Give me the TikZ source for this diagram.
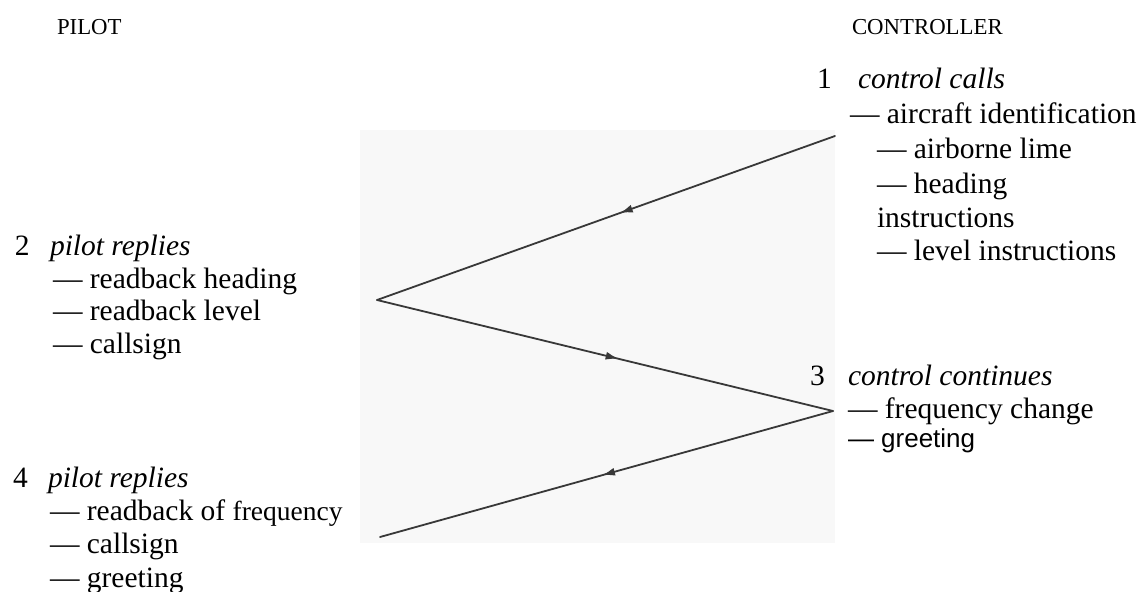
\documentclass[tikz,border=0pt]{standalone}
\usepackage{fontspec}
\setmainfont{Liberation Serif}
\newfontfamily\sansf{Liberation Sans}
\usetikzlibrary{decorations.markings,arrows.meta}
\definecolor{inkline}{HTML}{383838}
\definecolor{scanbg}{HTML}{F8F8F8}
\begin{document}
\begin{tikzpicture}[x=1pt,y=-1pt,
  txt/.style={anchor=base west,inner sep=0pt,outer sep=0pt,font=\fontsize{29.5}{33}\selectfont},
  hdr/.style={anchor=base west,inner sep=0pt,outer sep=0pt,font=\fontsize{22.8}{26}\selectfont},
  flow/.style={draw=inkline,line width=1.8pt,line cap=round,line join=round},
  midarrow/.style={postaction={decorate},decoration={markings,
     mark=at position #1 with {\arrow[inkline]{Latex[length=13pt,width=8pt]}}}}
]
\useasboundingbox (0,0) rectangle (1144,592);
\fill[scanbg] (360,130) rectangle (835,543);

% headers
\node[hdr] (pilot) at (57,34) {PILOT};
\node[hdr] (controller) at (852,34) {CONTROLLER};

% block 1
\node[txt] (n1) at (817,88) {1};
\node[txt] (t1) at (858,88) {\itshape control calls};
\node[txt] (t1a) at (850,123) {— aircraft identification};
\node[txt] (t1b) at (877,158) {— airborne lime};
\node[txt] (t1c) at (877,193) {— heading};
\node[txt] (t1d) at (877,227) {instructions};
\node[txt] (t1e) at (877,260) {— level instructions};

% block 2
\node[txt] (n2) at (15,255) {2};
\node[txt] (t2) at (50,255) {\itshape pilot replies};
\node[txt] (t2a) at (53,288) {— readback heading};
\node[txt] (t2b) at (53,320) {— readback level};
\node[txt] (t2c) at (53,353) {— callsign};

% block 3
\node[txt] (n3) at (810,385) {3};
\node[txt] (t3) at (848,385) {\itshape control continues};
\node[txt] (t3a) at (848,418) {— frequency change};
\node[txt,font=\sansf\fontsize{26}{30}\selectfont] (t3b) at (848,447) {— greeting};

% block 4
\node[txt] (n4) at (13,487) {4};
\node[txt] (t4) at (48,487) {\itshape pilot replies};
\node[txt] (t4a) at (50,520) {— readback of {\fontsize{27.5}{33}\selectfont frequency}};
\node[txt] (t4b) at (50,553) {— callsign};
\node[txt] (t4c) at (50,587) {— greeting};

% zigzag
\coordinate (p1) at (835,136);
\coordinate (v2) at (377,300);
\coordinate (v3) at (833,411);
\coordinate (p4) at (380,537);
\draw[flow,midarrow=0.47] (p1) -- (v2);
\draw[flow,midarrow=0.53] (v2) -- (v3);
\draw[flow,midarrow=0.51] (v3) -- (p4);
\end{tikzpicture}
\end{document}
